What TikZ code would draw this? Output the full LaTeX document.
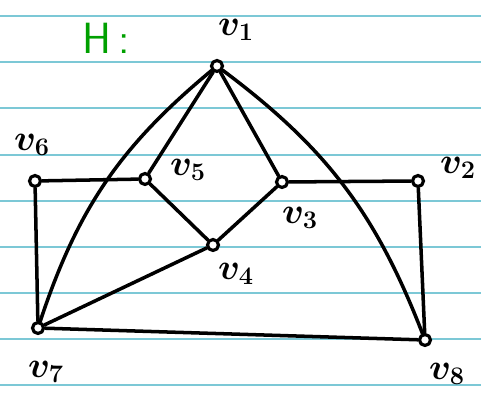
\documentclass[tikz,border=0pt]{standalone}
\usepackage{tikz}
\usetikzlibrary{positioning}
\definecolor{rule}{HTML}{7CC8D6}
\definecolor{ink}{HTML}{000000}
\definecolor{hgreen}{HTML}{00A000}
\tikzset{
  vertex/.style={circle, draw=ink, line width=1.8pt, fill=white,
                 inner sep=0pt, minimum size=0.22cm},
  vlabel/.style={font=\huge\boldmath, text=ink, inner sep=0pt},
  edge/.style={draw=ink, line width=2pt, line cap=round},
  paper/.style={draw=rule, line width=0.6pt}
}
\begin{document}
\begin{tikzpicture}[x=0.02cm, y=-0.02cm]
\useasboundingbox (0,0) rectangle (481,398);
\foreach \yy in {16,62,108,155,201,247,293,339,385}
  \draw[paper] (0,\yy) -- (481,\yy);
\node[font=\Huge\sffamily, text=hgreen] (title) at (106,38) {H\,:};
\node[vertex] (v1) at (217,66) {};
\node[vertex] (v5) at (145,179) {};
\node[vertex] (v3) at (282,182) {};
\node[vertex] (v6) at (35,181) {};
\node[vertex] (v2) at (418,181) {};
\node[vertex] (v4) at (213,245) {};
\node[vertex] (v7) at (38,328) {};
\node[vertex] (v8) at (425,340) {};
\node[vlabel] (l1) at (236,30) {$v_1$};
\node[vlabel] (l2) at (458,168) {$v_2$};
\node[vlabel] (l3) at (300,218) {$v_3$};
\node[vlabel] (l4) at (236,274) {$v_4$};
\node[vlabel] (l5) at (188,170) {$v_5$};
\node[vlabel] (l6) at (32,145) {$v_6$};
\node[vlabel] (l7) at (46,372) {$v_7$};
\node[vlabel] (l8) at (447,374) {$v_8$};
\draw[edge] (v1) to[bend right=16] (v7);
\draw[edge] (v1) to[bend left=16] (v8);
\draw[edge] (v1) -- (v5);
\draw[edge] (v1) -- (v3);
\draw[edge] (v6) -- (v5);
\draw[edge] (v3) -- (v2);
\draw[edge] (v5) -- (v4);
\draw[edge] (v3) -- (v4);
\draw[edge] (v4) -- (v7);
\draw[edge] (v6) -- (v7);
\draw[edge] (v2) -- (v8);
\draw[edge] (v7) -- (v8);
\end{tikzpicture}
\end{document}
